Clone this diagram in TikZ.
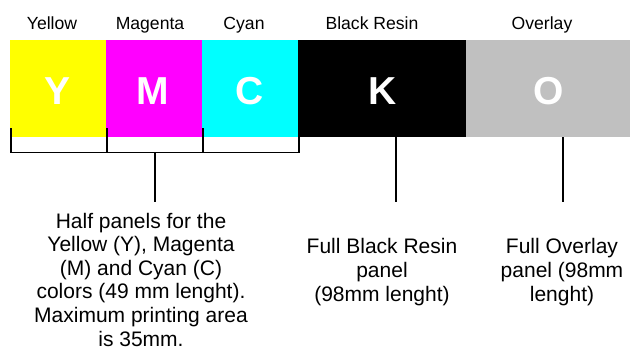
\documentclass[tikz,border=0pt]{standalone}
\usepackage{fontspec}
\setmainfont{Liberation Sans}
\definecolor{ovgray}{HTML}{C0C0C0}
\definecolor{pyellow}{HTML}{FFFF00}
\definecolor{pmagenta}{HTML}{FF00FF}
\definecolor{pcyan}{HTML}{00FFFF}
\begin{document}
\begin{tikzpicture}[x=1pt,y=-1pt,
  panel/.style={draw=none,inner sep=0pt,minimum height=97pt,anchor=north west},
  letter/.style={text=white,font=\bfseries\fontsize{39}{40}\selectfont,inner sep=0pt,anchor=base},
  toplabel/.style={font=\fontsize{17.6}{20}\selectfont,inner sep=0pt,anchor=base},
  desc/.style={font=\fontsize{21}{23.6}\selectfont,inner sep=0pt,anchor=base,align=center},
  descr/.style={font=\fontsize{21}{24.1}\selectfont,inner sep=0pt,anchor=base,align=center},
  rule/.style={line width=1.5pt,black}]
\useasboundingbox (0,0) rectangle (630,351);
% panels
\node[panel,fill=pyellow,minimum width=96pt] (py) at (10,40) {};
\node[panel,fill=pmagenta,minimum width=96pt] (pm) at (106,40) {};
\node[panel,fill=pcyan,minimum width=96pt] (pc) at (202,40) {};
\node[panel,fill=black,minimum width=168pt] (pk) at (298,40) {};
\node[panel,fill=ovgray,minimum width=164pt] (po) at (466,40) {};
% letters
\node[letter] (ly) at (58,104) {Y};
\node[letter] (lm) at (153,104) {M};
\node[letter] (lc) at (250,104) {C};
\node[letter] (lk) at (383,104) {K};
\node[letter] (lo) at (549,104) {O};
% top labels
\node[toplabel] (ty) at (52,29.3) {Yellow};
\node[toplabel] (tm) at (150,29.3) {Magenta};
\node[toplabel] (tc) at (244,29.3) {Cyan};
\node[toplabel] (tk) at (372,29.3) {Black Resin};
\node[toplabel] (to) at (542,29.3) {Overlay};
% descriptions (anchor = baseline of last line)
\node[desc] (dh) at (141,346) {Half panels for the\\Yellow (Y), Magenta\\(M) and Cyan (C)\\colors (49 mm lenght).\\Maximum printing area\\is 35mm.};
\node[descr] (dk) at (382,301.2) {Full Black Resin\\panel\\(98mm lenght)};
\node[descr] (do) at (562,301.2) {Full Overlay\\panel (98mm\\lenght)};
% bracket
\coordinate (b1) at (11,128.3);
\coordinate (b2) at (107,128.3);
\coordinate (b3) at (203,128.3);
\coordinate (b4) at (299,128.3);
\coordinate (bl) at (11,152.7);
\coordinate (br) at (299,152.7);
\coordinate (bm) at (155,152.7);
\coordinate (bme) at (155,202);
\draw[rule] (b1) -- (bl) -- (br) -- (b4);
\draw[rule] (b2) -- (b2 |- bl);
\draw[rule] (b3) -- (b3 |- bl);
\draw[rule] (bm) -- (bme);
% stems
\coordinate (ks) at (396,137);
\coordinate (ke) at (396,202);
\coordinate (os) at (563,137);
\coordinate (oe) at (563,202);
\draw[rule] (ks) -- (ke);
\draw[rule] (os) -- (oe);
\end{tikzpicture}
\end{document}
